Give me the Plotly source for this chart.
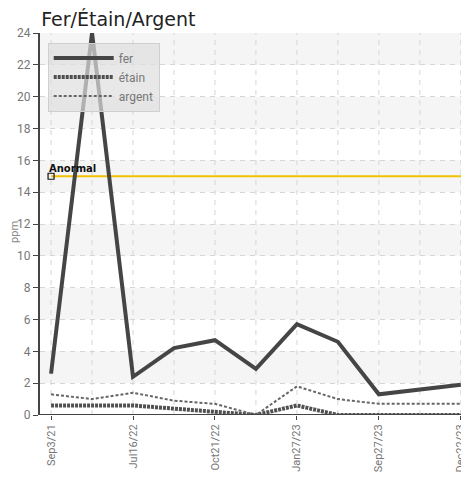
import plotly.graph_objects as go

x_idx = [0, 1, 2, 3, 4, 5, 6, 7, 8, 10]
fer = [2.6, 24.0, 2.4, 4.2, 4.7, 2.9, 5.7, 4.6, 1.3, 1.9]
etain = [0.6, 0.6, 0.6, 0.4, 0.2, 0.0, 0.6, 0.0, 0.0, 0.0]
argent = [1.3, 1.0, 1.4, 0.9, 0.7, 0.0, 1.8, 1.0, 0.7, 0.7]
tick_pos = [0, 2, 4, 6, 8, 10]
tick_labels = ["Sep3/21", "Jul16/22", "Oct21/22", "Jan27/23", "Sep27/23", "Dec22/23"]
anomal_value = 15
anomal_label = "Anormal"
y_title = "ppm"

font_tick = "Liberation Sans Narrow, Roboto, sans-serif"

fig = go.Figure()

# alternating bands
shapes = []
for y0 in range(2, 24, 4):
    shapes.append(dict(type="rect", xref="paper", yref="y", x0=0, x1=1, y0=y0, y1=y0 + 2,
                       fillcolor="#f5f5f5", line=dict(width=0), layer="below"))
# vertical dashed grid lines at each index
for i in range(0, 11):
    shapes.append(dict(type="line", xref="x", yref="paper", x0=i, x1=i, y0=0, y1=1,
                       line=dict(color="#d6d6d6", width=1, dash="5px,5px"), layer="below"))

fig.add_trace(go.Scatter(x=[0, 10.3], y=[anomal_value, anomal_value], mode="lines",
                         line=dict(color="#f2c200", width=2), showlegend=False, hoverinfo="skip"))
fig.add_trace(go.Scatter(x=[0], y=[anomal_value], mode="markers",
                         marker=dict(symbol="square-open", size=6, color="#111", line=dict(width=1.2)),
                         showlegend=False, hoverinfo="skip"))

fig.add_trace(go.Scatter(x=x_idx, y=fer, name="fer", mode="lines",
                         line=dict(color="#454545", width=4)))
fig.add_trace(go.Scatter(x=x_idx, y=etain, name="étain", mode="lines",
                         line=dict(color="#505050", width=4, dash="3px,1px")))
fig.add_trace(go.Scatter(x=x_idx, y=argent, name="argent", mode="lines",
                         line=dict(color="#666666", width=2, dash="3px,2px")))

fig.add_annotation(x=0, y=anomal_value, text="<b>" + anomal_label + "</b>", showarrow=False,
                   xanchor="left", yanchor="bottom", xshift=-4, yshift=0,
                   font=dict(family="DejaVu Sans", size=10, color="#111"))

fig.add_annotation(xref="paper", yref="paper", x=-0.06, y=0.48, text=y_title, showarrow=False,
                   textangle=-90, xanchor="center", yanchor="middle",
                   font=dict(family=font_tick, size=11, color="#888"))

# the page body adds an 8px offset, so the figure is sized to fit the 469x480 window
fig.update_layout(
    width=461, height=464,
    margin=dict(l=32, r=0, t=25, b=57, autoexpand=False),
    plot_bgcolor="white", paper_bgcolor="white",
    title=dict(text="Fer/Étain/Argent", x=0.072, xanchor="left", y=0.975, yanchor="middle",
               font=dict(family="DejaVu Sans", size=19, color="#222")),
    shapes=shapes,
    showlegend=True,
    legend=dict(x=0.018, y=0.975, xanchor="left", yanchor="top",
                bgcolor="rgba(222,222,222,0.7)", bordercolor="#cfcfcf", borderwidth=1,
                font=dict(family=font_tick, size=12, color="#777"),
                itemwidth=60, tracegroupgap=0),
    xaxis=dict(range=[-0.27, 10.2], tickmode="array", tickvals=tick_pos, ticktext=tick_labels,
               tickangle=-90, showgrid=False, zeroline=False, showline=False, automargin=False,
               ticks="outside", ticklen=4, tickcolor="#444",
               tickfont=dict(family=font_tick, size=11, color="#777")),
    yaxis=dict(range=[0, 24], dtick=2, showgrid=True, gridcolor="#d6d6d6", griddash="5px,5px",
               zeroline=False, showline=True, linecolor="#444", linewidth=2, automargin=False,
               ticks="outside", ticklen=5, tickcolor="#444",
               tickfont=dict(family=font_tick, size=12, color="#777")),
)

# baseline axis at y=0
fig.add_shape(type="line", xref="paper", yref="y", x0=0, x1=1, y0=0, y1=0,
              line=dict(color="#444", width=2))

fig.write_html("out.html")
